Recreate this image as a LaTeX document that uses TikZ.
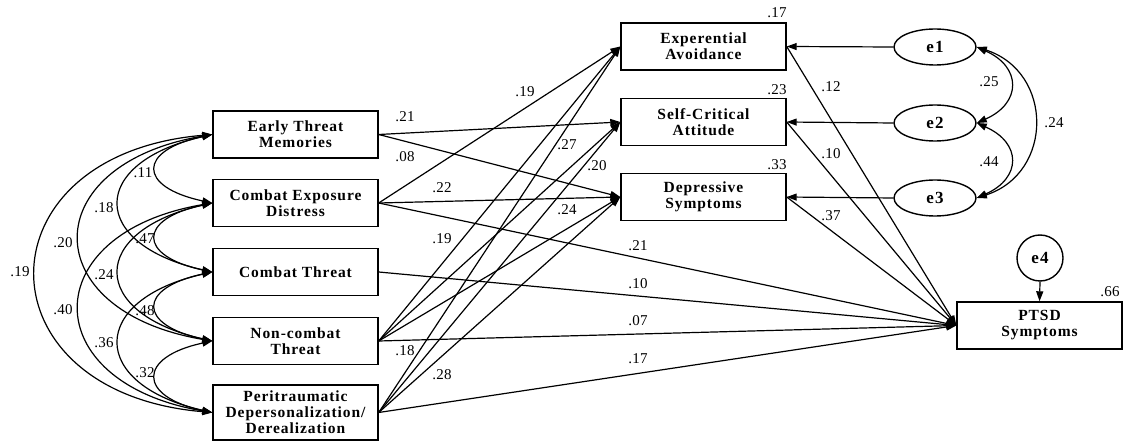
\documentclass[tikz,border=0pt]{standalone}
\usepackage{fontspec}
\setmainfont{Liberation Serif}
\newfontfamily\boxfont{Liberation Serif}[LetterSpace=6]
\newfontfamily\numfont{Liberation Serif}[LetterSpace=2]
\usetikzlibrary{arrows.meta,shapes.geometric}
\begin{document}
\begin{tikzpicture}[x=1pt,y=-1pt,
  box/.style={draw,line width=1.4pt,minimum width=165pt,minimum height=47pt,inner sep=2pt,align=center,
    font=\boxfont\bfseries\fontsize{15.5}{16}\selectfont},
  err/.style={draw,line width=1.4pt,ellipse,minimum width=82pt,minimum height=36pt,inner sep=0pt,
    font=\boxfont\bfseries\fontsize{17}{18}\selectfont},
  errc/.style={draw,line width=1.4pt,circle,minimum size=46pt,inner sep=0pt,
    font=\boxfont\bfseries\fontsize{17}{18}\selectfont},
  lab/.style={inner sep=0pt,font=\numfont\fontsize{15}{16}\selectfont},
  arr/.style={line width=1.2pt,-{Triangle[length=10pt,width=7pt]}},
  cov/.style={line width=1.2pt,{Triangle[length=10pt,width=7pt]}-{Triangle[length=10pt,width=7pt]}}]
\useasboundingbox (0,0) rectangle (1123,443);

% exogenous boxes
\node[box] (etm) at (295.5,134.5) {Early Threat\\Memories};
\node[box] (ced) at (295.5,203) {Combat Exposure\\Distress};
\node[box] (ct) at (295.5,272) {Combat Threat};
\node[box] (nct) at (295.5,341) {Non-combat\\Threat};
\node[box,minimum height=55pt] (pd) at (295.5,412.5) {Peritraumatic\\Depersonalization/\\Derealization};

% mediators
\node[box] (ea) at (703.5,46.5) {Experential\\Avoidance};
\node[box] (sca) at (703.5,122) {Self-Critical\\Attitude};
\node[box] (ds) at (703.5,197) {Depressive\\Symptoms};

% outcome
\node[box] (ptsd) at (1039.5,325.5) {PTSD\\Symptoms};

% errors
\node[err] (e1) at (935,47) {e1};
\node[err] (e2) at (935,123) {e2};
\node[err] (e3) at (935,198) {e3};
\node[errc] (e4) at (1040,258) {e4};

% covariances left
\draw[cov] (etm.west) .. controls +(-75,16) and +(-75,-16) .. (ced.west);
\draw[cov] (ced.west) .. controls +(-75,16) and +(-75,-16) .. (ct.west);
\draw[cov] (ct.west) .. controls +(-75,16) and +(-75,-16) .. (nct.west);
\draw[cov] (nct.west) .. controls +(-75,16) and +(-75,-16) .. (pd.west);
\draw[cov] (etm.west) .. controls +(-124,28) and +(-124,-28) .. (ct.west);
\draw[cov] (ced.west) .. controls +(-124,28) and +(-124,-28) .. (nct.west);
\draw[cov] (ct.west) .. controls +(-124,28) and +(-124,-28) .. (pd.west);
\draw[cov] (etm.west) .. controls +(-177,30) and +(-177,-30) .. (nct.west);
\draw[cov] (ced.west) .. controls +(-177,30) and +(-177,-30) .. (pd.west);
\draw[cov] (etm.west) .. controls +(-235,20) and +(-235,-20) .. (pd.west);

% covariances right
\draw[cov] (e1.east) .. controls +(45,20) and +(45,-20) .. (e2.east);
\draw[cov] (e2.east) .. controls +(45,20) and +(45,-20) .. (e3.east);
\draw[cov] (e1.east) .. controls +(77,25) and +(77,-25) .. (e3.east);

% paths
\draw[arr] (etm.east) -- (sca.west);
\draw[arr] (etm.east) -- (ds.west);
\draw[arr] (ced.east) -- (ea.west);
\draw[arr] (ced.east) -- (ds.west);
\draw[arr] (ced.east) -- (ptsd.west);
\draw[arr] (ct.east) -- (ptsd.west);
\draw[arr] (nct.east) -- (ea.west);
\draw[arr] (nct.east) -- (sca.west);
\draw[arr] (nct.east) -- (ds.west);
\draw[arr] (nct.east) -- (ptsd.west);
\draw[arr] (pd.east) -- (ea.west);
\draw[arr] (pd.east) -- (sca.west);
\draw[arr] (pd.east) -- (ds.west);
\draw[arr] (pd.east) -- (ptsd.west);
\draw[arr] (ea.east) -- (ptsd.west);
\draw[arr] (sca.east) -- (ptsd.west);
\draw[arr] (ds.east) -- (ptsd.west);
\draw[arr] (e1.west) -- (ea.east);
\draw[arr] (e2.west) -- (sca.east);
\draw[arr] (e3.west) -- (ds.east);
\draw[arr] (e4.south) -- (ptsd.north);

% labels: covariances left
\node[lab] (c11) at (143,173) {.11};
\node[lab] (c47) at (145,239) {.47};
\node[lab] (c48) at (145,311) {.48};
\node[lab] (c32) at (145,373) {.32};
\node[lab] (c18) at (104,208) {.18};
\node[lab] (c24) at (104,275) {.24};
\node[lab] (c36) at (104,343) {.36};
\node[lab] (c20) at (63,243) {.20};
\node[lab] (c40) at (63,310) {.40};
\node[lab] (c19) at (20,272) {.19};

% labels: paths
\node[lab] (p19a) at (525,92) {.19};
\node[lab] (p21a) at (405,117) {.21};
\node[lab] (p08) at (405,157) {.08};
\node[lab] (p22) at (442,188) {.22};
\node[lab] (p27) at (567,145) {.27};
\node[lab] (p20) at (597,166) {.20};
\node[lab] (p24) at (567,210) {.24};
\node[lab] (p19b) at (442,239) {.19};
\node[lab] (p21b) at (638,246) {.21};
\node[lab] (p10a) at (638,284) {.10};
\node[lab] (p07) at (638,321) {.07};
\node[lab] (p17a) at (638,359) {.17};
\node[lab] (p18) at (405,351) {.18};
\node[lab] (p28) at (442,375) {.28};

% labels: right side
\node[lab] (r17) at (777,13) {.17};
\node[lab] (r23) at (777,90) {.23};
\node[lab] (r33) at (777,165) {.33};
\node[lab] (r66) at (1110,292) {.66};
\node[lab] (p12) at (831,87) {.12};
\node[lab] (p10b) at (831,154) {.10};
\node[lab] (p37) at (831,216) {.37};
\node[lab] (r25) at (989,82) {.25};
\node[lab] (r44) at (989,162) {.44};
\node[lab] (r24) at (1054,123) {.24};
\end{tikzpicture}
\end{document}
